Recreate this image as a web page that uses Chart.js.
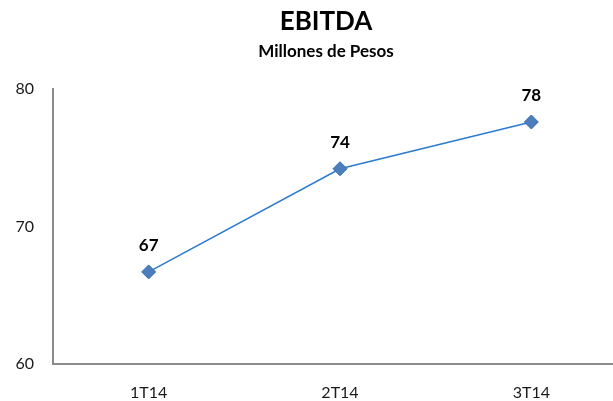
<!DOCTYPE html>
<html>
<head>
<meta charset="utf-8">
<script src="https://cdn.jsdelivr.net/npm/chart.js@4/dist/chart.umd.min.js"></script>
<style>
  html, body { margin: 0; padding: 0; background: #fff; overflow: hidden; }
  #wrap { width: 613px; height: 401px; overflow: hidden; }
</style>
</head>
<body>
<div id="wrap"><canvas id="lineChart" width="635" height="401"></canvas></div>
<script>
const categories = ['1T14', '2T14', '3T14'];
const ebitda = [66.7, 74.2, 77.6];
const yTicks = [60, 70, 80];

const FONT = 'Lato, "Open Sans", sans-serif';

// title + subtitle, centred over the visible page
const titlePlugin = {
  id: 'titles',
  afterDraw(chart) {
    const ctx = chart.ctx;
    ctx.save();
    ctx.fillStyle = '#000';
    ctx.textAlign = 'center';
    ctx.textBaseline = 'alphabetic';
    ctx.font = 'bold 26px ' + FONT;
    ctx.fillText('EBITDA', 326, 30);
    ctx.font = 'bold 17px ' + FONT;
    ctx.fillText('Millones de Pesos', 326, 57);
    ctx.restore();
  }
};

// value labels above each point
const valueLabels = {
  id: 'valueLabels',
  afterDatasetsDraw(chart) {
    const ctx = chart.ctx;
    const meta = chart.getDatasetMeta(0);
    ctx.save();
    ctx.fillStyle = '#000';
    ctx.font = 'bold 17px ' + FONT;
    ctx.textAlign = 'center';
    ctx.textBaseline = 'middle';
    meta.data.forEach((pt, i) => {
      ctx.fillText(Math.round(ebitda[i]), pt.x, pt.y - 26);
    });
    ctx.restore();
  }
};

const ctx = document.getElementById('lineChart');
new Chart(ctx, {
  type: 'line',
  data: {
    labels: categories,
    datasets: [{
      label: 'EBITDA',
      data: ebitda,
      borderColor: '#2b7bd0',
      borderWidth: 1.5,
      pointStyle: 'rectRot',
      pointRadius: 7,
      pointHoverRadius: 7,
      pointBackgroundColor: '#4a7ebd',
      pointBorderColor: '#3a6cb0',
      pointBorderWidth: 1,
      tension: 0
    }]
  },
  options: {
    responsive: false,
    animation: false,
    layout: { padding: { top: 89, left: 0, right: 0, bottom: 0 } },
    plugins: {
      legend: { display: false },
      tooltip: { enabled: false },
      title: { display: false }
    },
    scales: {
      x: {
        offset: true,
        grid: { display: false, drawTicks: false },
        border: { display: true, color: '#8c8c8c', width: 2 },
        ticks: { color: '#1a1a1a', font: { family: FONT, size: 16 }, padding: 19 },
        afterFit: s => { s.height = 37; }
      },
      y: {
        min: 60,
        max: 80,
        afterBuildTicks: s => { s.ticks = yTicks.map(v => ({ value: v })); },
        grid: { display: false, drawTicks: false },
        border: { display: true, color: '#8c8c8c', width: 2 },
        ticks: { color: '#1a1a1a', font: { family: FONT, size: 16 }, padding: 19 },
        afterFit: s => { s.width = 53; }
      }
    }
  },
  plugins: [titlePlugin, valueLabels]
});
</script>
</body>
</html>
